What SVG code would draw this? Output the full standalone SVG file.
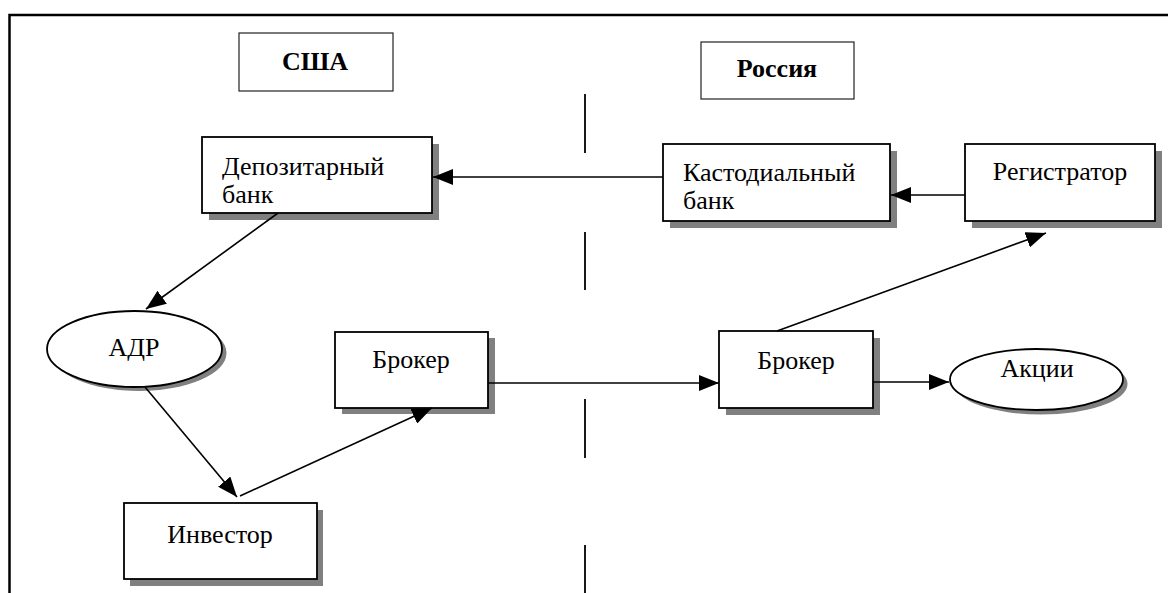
<svg xmlns="http://www.w3.org/2000/svg" width="1168" height="593" viewBox="0 0 1168 593">
<defs>
<style>
.frame{fill:none;stroke:#000;stroke-width:2.5}
.region{fill:#fff;stroke:#222;stroke-width:1.2}
.box{fill:#fff;stroke:#000;stroke-width:1.8}
.shadow{fill:#808080}
.t{font-family:"Liberation Serif","Times New Roman",serif;font-size:26px;fill:#000}
.b{font-weight:bold;text-anchor:middle}
.m{text-anchor:middle}
.c{fill:none;stroke:#000;stroke-width:1.6}
.dash{fill:none;stroke:#000;stroke-width:1.8}
</style>
<marker id="ah" viewBox="0 0 20 16" refX="20" refY="8" markerWidth="20" markerHeight="16" markerUnits="userSpaceOnUse" orient="auto">
<path d="M0,0 L20,8 L0,16 Z" fill="#000"/>
</marker>
</defs>
<rect width="1168" height="593" fill="#fff"/>
<rect class="frame" x="9.5" y="15" width="1200" height="700"/>
<g id="divider">
<line class="dash" x1="585" y1="94" x2="585" y2="153"/>
<line class="dash" x1="585" y1="232" x2="585" y2="290"/>
<line class="dash" x1="585" y1="399" x2="585" y2="458"/>
<line class="dash" x1="585" y1="545" x2="585" y2="593"/>
</g>
<g id="usa">
<rect class="region" x="239" y="33" width="154" height="58"/>
<text class="t b" x="315" y="70">США</text>
</g>
<g id="russia">
<rect class="region" x="701" y="42" width="153" height="57"/>
<text class="t b" x="777" y="77">Россия</text>
</g>
<g id="depository">
<rect class="shadow" x="209" y="144" width="230" height="76"/>
<rect class="box" x="202" y="137" width="230" height="76"/>
<text class="t" x="222" y="175">Депозитарный</text>
<text class="t" x="222" y="203">банк</text>
</g>
<g id="custodian">
<rect class="shadow" x="670" y="151" width="227" height="77"/>
<rect class="box" x="663" y="144" width="227" height="77"/>
<text class="t" x="683" y="181">Кастодиальный</text>
<text class="t" x="683" y="209">банк</text>
</g>
<g id="registrar">
<rect class="shadow" x="972" y="151" width="190" height="77"/>
<rect class="box" x="965" y="144" width="190" height="77"/>
<text class="t m" x="1060" y="180">Регистратор</text>
</g>
<g id="adr">
<ellipse class="shadow" cx="139" cy="353" rx="87.5" ry="38"/>
<ellipse class="box" cx="134.5" cy="349" rx="87.5" ry="38"/>
<text class="t m" x="134" y="356">АДР</text>
</g>
<g id="investor">
<rect class="shadow" x="130" y="510" width="193" height="76"/>
<rect class="box" x="124" y="503" width="193" height="76"/>
<text class="t m" x="220" y="543">Инвестор</text>
</g>
<g id="broker-us">
<rect class="shadow" x="342" y="338" width="153" height="76"/>
<rect class="box" x="335" y="332" width="153" height="76"/>
<text class="t m" x="411" y="368">Брокер</text>
</g>
<g id="broker-ru">
<rect class="shadow" x="726" y="338" width="154" height="77"/>
<rect class="box" x="719" y="331" width="154" height="77"/>
<text class="t m" x="796" y="369">Брокер</text>
</g>
<g id="shares">
<ellipse class="shadow" cx="1041" cy="384" rx="86.5" ry="30.5"/>
<ellipse class="box" cx="1036.5" cy="379.5" rx="86.5" ry="30.5"/>
<text class="t m" x="1037" y="377">Акции</text>
</g>
<g id="connectors">
<line class="c" x1="965" y1="195" x2="891" y2="195" marker-end="url(#ah)"/>
<line class="c" x1="663" y1="177" x2="433" y2="177" marker-end="url(#ah)"/>
<line class="c" x1="278" y1="213" x2="146" y2="309" marker-end="url(#ah)"/>
<line class="c" x1="145" y1="387" x2="237" y2="497" marker-end="url(#ah)"/>
<line class="c" x1="240" y1="496" x2="432" y2="408" marker-end="url(#ah)"/>
<line class="c" x1="488" y1="383" x2="719" y2="383" marker-end="url(#ah)"/>
<line class="c" x1="873" y1="382" x2="949" y2="382" marker-end="url(#ah)"/>
<line class="c" x1="777" y1="331" x2="1046" y2="233" marker-end="url(#ah)"/>
</g>
</svg>
